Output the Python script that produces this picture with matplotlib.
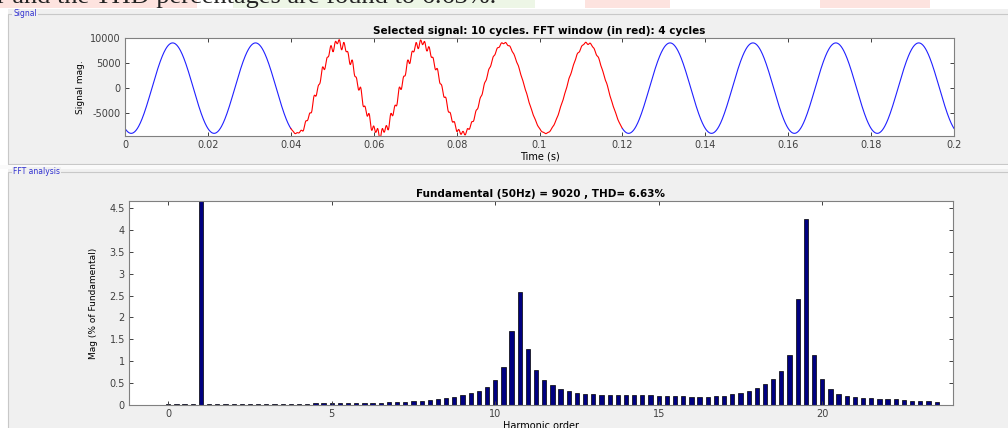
import numpy as np
import matplotlib
matplotlib.use('Agg')
import matplotlib.pyplot as plt
from matplotlib.patches import Rectangle
from matplotlib.ticker import FuncFormatter

# FFT bars: harmonic order (0.25 steps) and magnitude in % of fundamental
harm_order = np.arange(0, 23.75, 0.25)
harm_mag = [0.02, 0.02, 0.02, 0.02, 100.0, 0.03, 0.03, 0.03,          # 0 .. 1.75
            0.03, 0.025, 0.025, 0.02, 0.02, 0.02, 0.02, 0.02,          # 2 .. 3.75
            0.025, 0.03, 0.035, 0.04, 0.05, 0.046, 0.046, 0.046,       # 4 .. 5.75
            0.046, 0.05, 0.055, 0.06, 0.06, 0.07, 0.08, 0.10,          # 6 .. 7.75
            0.11, 0.13, 0.15, 0.19, 0.22, 0.27, 0.33, 0.41,            # 8 .. 9.75
            0.56, 0.86, 1.68, 2.57, 1.29, 0.79, 0.57, 0.45,            # 10 .. 11.75
            0.37, 0.32, 0.28, 0.26, 0.24, 0.23, 0.22, 0.22,            # 12 .. 13.75
            0.22, 0.22, 0.22, 0.22, 0.215, 0.21, 0.20, 0.20,           # 14 .. 15.75
            0.19, 0.19, 0.19, 0.20, 0.21, 0.24, 0.27, 0.32,            # 16 .. 17.75
            0.39, 0.47, 0.59, 0.77, 1.15, 2.43, 4.26, 1.15,            # 18 .. 19.75
            0.59, 0.37, 0.26, 0.21, 0.18, 0.16, 0.15, 0.145,           # 20 .. 21.75
            0.14, 0.13, 0.11, 0.10, 0.09, 0.08, 0.06]                  # 22 .. 23.5
fund_hz = 50
fund_mag = 9020
thd = 6.63

# time signal: 10 cycles, fundamental phase read from the first peak (~0.0115 s)
sig_phase = -2.04
fft_start, fft_end = 0.04, 0.12
# interharmonic ripple inside the FFT window (orders / % taken from the tallest bars)
ripple_order = [10.5, 10.75, 11.0, 19.25, 19.5, 19.75]
ripple_pct = [1.68, 2.57, 1.29, 2.43, 4.26, 1.15]
ripple_align = [0.055, 0.055, 0.055, 0.061, 0.061, 0.061]

W, H = 1008, 428
fig = plt.figure(figsize=(W / 100, H / 100), dpi=100)
fig.patch.set_facecolor('white')


def fx(x):
    return x / W


def fy(y):
    return 1 - y / H


def rect(x0, y0, x1, y1, **kw):
    fig.patches.append(Rectangle((fx(x0), fy(y1)), fx(x1 - x0), (y1 - y0) / H,
                                 transform=fig.transFigure, figure=fig, zorder=-5, **kw))


# strip of the document above the screenshot
rect(0, 0, 197, 8, facecolor='#fde3df', edgecolor='none')
rect(233, 0, 535, 8, facecolor='#edf6e6', edgecolor='none')
rect(585, 0, 670, 8, facecolor='#fde3df', edgecolor='none')
rect(820, 0, 930, 8, facecolor='#fde3df', edgecolor='none')
fig.text(fx(-3), fy(3.5), 'r and the THD percentages are found to 6.63%.',
         fontsize=19, family='Liberation Serif', va='baseline', ha='left', color='#222',
         zorder=-4)

# gray gui background and the two panels
rect(8, 9, 1010, 430, facecolor='#f0f0f0', edgecolor='none')
rect(8, 14, 1012, 164, facecolor='none', edgecolor='#c8c8c8', linewidth=0.8)
rect(8, 172, 1012, 440, facecolor='none', edgecolor='#c8c8c8', linewidth=0.8)
rect(0, 165, 1008, 169, facecolor='#fafafa', edgecolor='none')
fig.text(fx(13), fy(14), 'Signal', fontsize=5.5, color='#3030d0', va='center',
         ha='left', bbox=dict(facecolor='#f0f0f0', edgecolor='none', pad=0.6))
fig.text(fx(13), fy(172), 'FFT analysis', fontsize=5.5, color='#3030d0', va='center',
         ha='left', bbox=dict(facecolor='#f0f0f0', edgecolor='none', pad=0.6))

fmt = FuncFormatter(lambda v, p: '%g' % v)


def style(ax):
    ax.set_facecolor('white')
    for s in ax.spines.values():
        s.set_color('#808080')
        s.set_linewidth(0.8)
    ax.tick_params(direction='in', top=True, right=True, length=3, width=0.7,
                   color='#404040', labelsize=7, labelcolor='#404040', pad=3)


# ---- signal panel
ax1 = fig.add_axes([fx(125), fy(136), fx(954 - 125), (136 - 38) / H])
style(ax1)
t = np.linspace(0, 0.2, 2001)
sig = fund_mag * np.sin(2 * np.pi * fund_hz * t + sig_phase)
ripple = np.zeros_like(t)
for o, p, ta in zip(ripple_order, ripple_pct, ripple_align):
    f = o * fund_hz
    ripple += fund_mag * p / 100 * np.sin(2 * np.pi * f * (t - ta) + np.pi / 2)
env = np.clip((t - fft_start) / 0.005, 0, 1) * np.clip((fft_end - t) / 0.01, 0, 1)
sig = sig + ripple * env
inwin = (t >= fft_start) & (t <= fft_end)
ax1.plot(t[t <= fft_start], sig[t <= fft_start], color='#2020ff', lw=0.8)
ax1.plot(t[t >= fft_end], sig[t >= fft_end], color='#2020ff', lw=0.8)
ax1.plot(t[inwin], sig[inwin], color='red', lw=0.8)
ax1.set_xlim(0, 0.2)
ax1.set_ylim(-9550, 10000)
ax1.set_xticks(np.arange(0, 0.201, 0.02))
ax1.set_yticks([-5000, 0, 5000, 10000])
ax1.xaxis.set_major_formatter(fmt)
ax1.yaxis.set_major_formatter(fmt)
ax1.set_title('Selected signal: 10 cycles. FFT window (in red): 4 cycles',
              fontsize=7.5, fontweight='bold', pad=3)
ax1.set_xlabel('Time (s)', fontsize=7, labelpad=1)
ax1.set_ylabel('Signal mag.', fontsize=6.5, labelpad=4)

# ---- FFT panel
ax2 = fig.add_axes([fx(129), fy(405), fx(953 - 129), (405 - 201) / H])
style(ax2)
ax2.bar(harm_order, harm_mag, width=0.13, color='#000080', edgecolor='black', linewidth=0.5)
ax2.set_xlim(-1.2, 24.0)
ax2.set_ylim(0, 4.66)
ax2.set_xticks([0, 5, 10, 15, 20])
ax2.set_yticks(np.arange(0, 4.51, 0.5))
ax2.xaxis.set_major_formatter(fmt)
ax2.yaxis.set_major_formatter(fmt)
ax2.set_title('Fundamental (%dHz) = %d , THD= %.2f%%' % (fund_hz, fund_mag, thd),
              fontsize=7.5, fontweight='bold', pad=3)
ax2.set_xlabel('Harmonic order', fontsize=7, labelpad=1)
ax2.set_ylabel('Mag (% of Fundamental)', fontsize=6.5, labelpad=8)

fig.savefig('out.png', dpi=100, facecolor=fig.get_facecolor())
